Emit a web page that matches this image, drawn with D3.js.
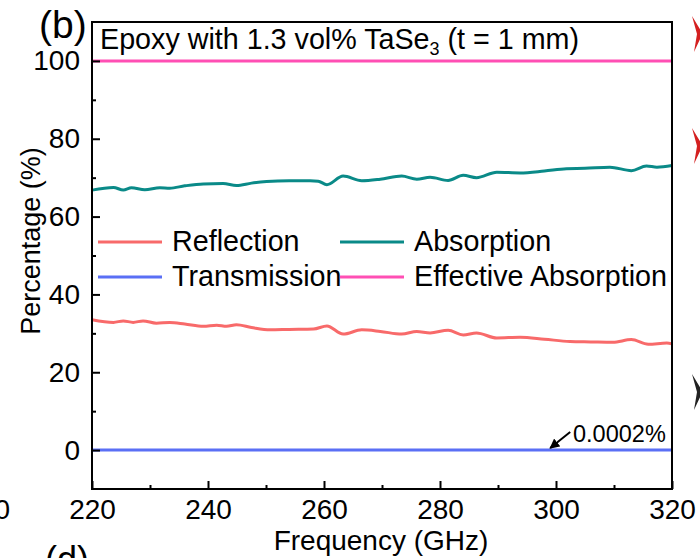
<!DOCTYPE html>
<html>
<head>
<meta charset="utf-8">
<script src="https://cdn.jsdelivr.net/npm/d3@7"></script>
<style>
  html, body { margin: 0; padding: 0; background: #fff; }
  svg { display: block; font-family: "Liberation Sans", Arial, sans-serif; }
</style>
</head>
<body>
<svg id="chart" width="700" height="558"></svg>
<script>
// data
const absFreq = [220, 223.7, 225.4, 226.8, 229.1, 231.7, 233.4, 236, 239.2, 242.6, 244.9, 247.5, 250.1, 254, 257.6, 259, 260.5, 263.3, 266.5, 269.7, 273.4, 276, 278.3, 281.4, 284, 286.3, 289.8, 293.8, 298, 301.8, 305, 309.3, 313, 315.6, 317.4, 320];
const absorption = [66.8, 67.5, 66.8, 67.4, 66.9, 67.4, 67.3, 67.9, 68.4, 68.5, 68.0, 68.6, 69.0, 69.2, 69.2, 69.1, 68.2, 70.4, 69.2, 69.6, 70.4, 69.6, 70.1, 69.3, 70.6, 70.0, 71.4, 71.2, 71.7, 72.3, 72.4, 72.7, 71.8, 73.0, 72.7, 73.1];

const refFreq = [220, 223.7, 225.4, 227.1, 228.8, 231.1, 233.4, 236, 239.2, 241.5, 243.2, 244.9, 247.5, 250.7, 254, 258.2, 260.5, 263.3, 266.5, 269.7, 273.4, 276, 278.3, 281.4, 284, 286.3, 289.8, 293.8, 298, 302.4, 306, 309.8, 313, 315.9, 319.1, 320];
const reflection = [33.5, 32.8, 33.2, 32.8, 33.2, 32.6, 32.8, 32.4, 31.8, 32.1, 31.8, 32.2, 31.5, 30.9, 31.0, 31.1, 31.9, 29.8, 30.9, 30.5, 29.8, 30.5, 30.1, 30.8, 29.6, 30.1, 28.8, 29.0, 28.5, 27.9, 27.8, 27.7, 28.4, 27.2, 27.5, 27.3];

const flatFreq = [220, 320];
const transmission = [0, 0];
const effAbsorption = [100, 100];

const xTicks = [220, 240, 260, 280, 300, 320];
const xMinor = [230, 250, 270, 290, 310];
const yTicks = [0, 20, 40, 60, 80, 100];
const yMinor = [10, 30, 50, 70, 90];

const colors = {
  'Reflection': '#f86a6a',
  'Absorption': '#0a8a88',
  'Transmission': '#5a6ff5',
  'Effective Absorption': '#ff4fb4'
};

const svg = d3.select('#chart');
const margin = { left: 92, right: 28, top: 22, bottom: 69 };
const W = 700, H = 558;
const innerW = W - margin.left - margin.right;
const innerH = H - margin.top - margin.bottom;

const x = d3.scaleLinear().domain([220, 320]).range([0, innerW]);
const y = d3.scaleLinear().domain([-10, 110]).range([innerH, 0]);

const g = svg.append('g').attr('transform', `translate(${margin.left},${margin.top})`);

const line = d3.line()
  .x(d => x(d[0]))
  .y(d => y(d[1]))
  .curve(d3.curveMonotoneX);

const series = [
  { name: 'Effective Absorption', pts: d3.zip(flatFreq, effAbsorption) },
  { name: 'Transmission', pts: d3.zip(flatFreq, transmission) },
  { name: 'Reflection', pts: d3.zip(refFreq, reflection) },
  { name: 'Absorption', pts: d3.zip(absFreq, absorption) }
];

g.append('g')
  .selectAll('path')
  .data(series)
  .join('path')
  .attr('d', d => line(d.pts))
  .attr('fill', 'none')
  .attr('stroke', d => colors[d.name])
  .attr('stroke-width', 3);

// axes, ticks pointing inward
g.append('g')
  .attr('transform', `translate(0,${innerH})`)
  .call(d3.axisBottom(x).tickValues(xTicks).tickSize(-8).tickSizeOuter(0).tickPadding(10));
g.append('g')
  .attr('transform', `translate(0,${innerH})`)
  .call(d3.axisBottom(x).tickValues(xMinor).tickSize(-4).tickSizeOuter(0).tickFormat(''));

g.append('g')
  .call(d3.axisLeft(y).tickValues(yTicks).tickSize(-8).tickSizeOuter(0).tickPadding(12));
g.append('g')
  .call(d3.axisLeft(y).tickValues(yMinor).tickSize(-4).tickSizeOuter(0).tickFormat(''));

g.selectAll('.domain').remove();
g.selectAll('.tick line').attr('stroke', '#000').attr('stroke-width', 2);
g.selectAll('.tick text')
  .attr('fill', '#000')
  .style('font-size', '28px')
  .style('font-family', '"Liberation Sans", Arial, sans-serif');

// frame
g.append('rect')
  .attr('width', innerW)
  .attr('height', innerH)
  .attr('fill', 'none')
  .attr('stroke', '#000')
  .attr('stroke-width', 2);

// axis titles
svg.append('text')
  .attr('x', 381)
  .attr('y', 550)
  .attr('text-anchor', 'middle')
  .style('font-size', '28px')
  .text('Frequency (GHz)');

svg.append('text')
  .attr('transform', 'translate(40,241) rotate(-90)')
  .attr('text-anchor', 'middle')
  .style('font-size', '27px')
  .text('Percentage (%)');

// title
const title = svg.append('text')
  .attr('x', 100)
  .attr('y', 49)
  .style('font-size', '28.7px');
title.append('tspan').text('Epoxy with 1.3 vol% TaSe');
title.append('tspan').attr('dy', 6).style('font-size', '18px').text('3');
title.append('tspan').attr('dy', -6).text(' (t = 1 mm)');

svg.append('text')
  .attr('x', 39)
  .attr('y', 38)
  .style('font-size', '39px')
  .text('(b)');

// legend
const legend = svg.append('g');
const legendItems = [
  { name: 'Reflection', lx: 98, ly: 242 },
  { name: 'Absorption', lx: 340, ly: 242 },
  { name: 'Transmission', lx: 98, ly: 277 },
  { name: 'Effective Absorption', lx: 340, ly: 277 }
];
legendItems.forEach(d => {
  legend.append('line')
    .attr('x1', d.lx).attr('x2', d.lx + 64)
    .attr('y1', d.ly).attr('y2', d.ly)
    .attr('stroke', colors[d.name])
    .attr('stroke-width', 3);
  legend.append('text')
    .attr('x', d.lx + 74)
    .attr('y', d.ly + 9)
    .style('font-size', '28.7px')
    .text(d.name);
});

// annotation for the transmission line
const defs = svg.append('defs');
defs.append('marker')
  .attr('id', 'arrow')
  .attr('viewBox', '0 0 10 10')
  .attr('refX', 9).attr('refY', 5)
  .attr('markerWidth', 5).attr('markerHeight', 5)
  .attr('orient', 'auto')
  .append('path')
  .attr('d', 'M0,0 L10,5 L0,10 Z')
  .attr('fill', '#000');

const ax = margin.left + x(299), ay = margin.top + y(0) - 2;
svg.append('line')
  .attr('x1', ax + 20).attr('y1', ay - 16)
  .attr('x2', ax).attr('y2', ay)
  .attr('stroke', '#000')
  .attr('stroke-width', 2)
  .attr('marker-end', 'url(#arrow)');
svg.append('text')
  .attr('x', 573)
  .attr('y', 442)
  .style('font-size', '23.5px')
  .text('0.0002%');

// fragments of the neighbouring panels
svg.append('text').attr('x', 10).attr('y', 519).attr('text-anchor', 'end').style('font-size', '28px').text('200');
svg.append('text').attr('x', 45).attr('y', 572).style('font-size', '36px').text('(d)');
const marks = [
  { y0: 16, c: '#d42020' },
  { y0: 128, c: '#d42020' },
  { y0: 374, c: '#222' }
];
svg.append('g').selectAll('path')
  .data(marks)
  .join('path')
  .attr('d', d => `M692,${d.y0} L701,${d.y0 + 15} L701,${d.y0 + 21} L694,${d.y0 + 36} L697,${d.y0 + 18} Z`)
  .attr('fill', d => d.c);
</script>
</body>
</html>
